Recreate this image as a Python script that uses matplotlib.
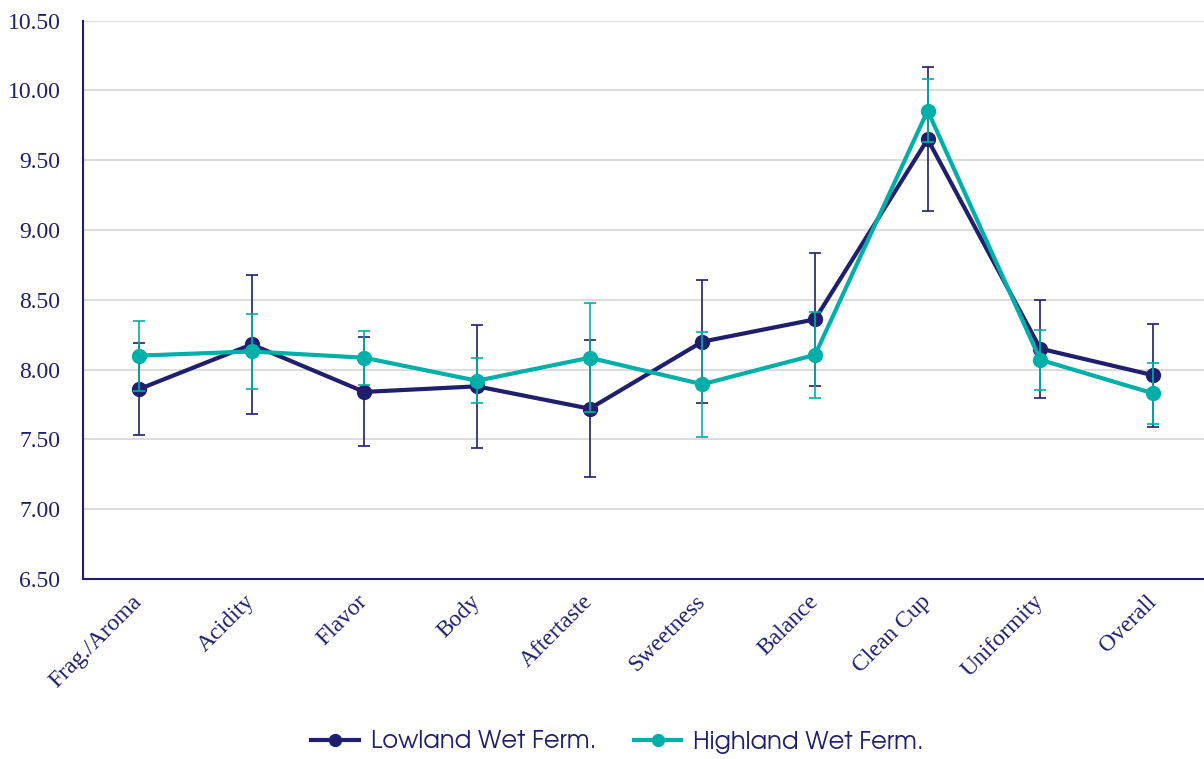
import numpy as np
import matplotlib
matplotlib.use("Agg")
import matplotlib.pyplot as plt
from matplotlib.lines import Line2D

plt.rcParams["font.family"] = ["Liberation Serif", "DejaVu Serif"]

# cupping attributes and mean scores (+/- std dev) per fermentation group
attributes = ["Frag./Aroma", "Acidity", "Flavor", "Body", "Aftertaste",
              "Sweetness", "Balance", "Clean Cup", "Uniformity", "Overall"]

lowland = [7.86, 8.18, 7.84, 7.88, 7.72, 8.20, 8.36, 9.65, 8.15, 7.96]
lowland_err = [0.33, 0.50, 0.39, 0.44, 0.49, 0.44, 0.475, 0.515, 0.35, 0.37]

highland = [8.10, 8.13, 8.085, 7.92, 8.085, 7.895, 8.105, 9.855, 8.07, 7.83]
highland_err = [0.25, 0.27, 0.195, 0.16, 0.39, 0.375, 0.31, 0.225, 0.215, 0.22]

yticks = [6.5, 7.0, 7.5, 8.0, 8.5, 9.0, 9.5, 10.0, 10.5]

NAVY = "#1f1f6e"
TEAL = "#00b0a8"
GRID = "#d9d9d9"

fig = plt.figure(figsize=(12.04, 7.59), dpi=100)
ax = fig.add_axes([0.0687, 0.2372, 0.9357, 0.7356])

x = np.arange(len(attributes))

ax.errorbar(x, lowland, yerr=lowland_err, color=NAVY, lw=3, marker="o", ms=10,
            ecolor=NAVY, elinewidth=1.2, capsize=4.5, capthick=1.2, zorder=3)
ax.errorbar(x, highland, yerr=highland_err, color=TEAL, lw=3, marker="o", ms=10,
            ecolor=TEAL, elinewidth=1.2, capsize=4.5, capthick=1.2, zorder=4)

ax.set_xlim(-0.5, len(attributes) - 0.5)
ax.set_ylim(6.5, 10.5)
ax.set_yticks(yticks)
ax.set_yticklabels([f"{v:.2f}" for v in yticks], fontsize=17, color=NAVY)
ax.set_xticks(x)
ax.set_xticklabels(attributes, rotation=45, ha="right", va="center",
                   rotation_mode="anchor", fontsize=17, color=NAVY)
ax.tick_params(axis="y", length=0, pad=16)
ax.tick_params(axis="x", length=0, pad=14)

ax.grid(axis="y", color=GRID, lw=1.3)
ax.set_axisbelow(True)
for side in ("top", "right"):
    ax.spines[side].set_visible(False)
for side in ("left", "bottom"):
    ax.spines[side].set_color(NAVY)
    ax.spines[side].set_linewidth(1.5)

handles = [Line2D([], [], color=NAVY, lw=3, marker="o", ms=8.5),
           Line2D([], [], color=TEAL, lw=3, marker="o", ms=8.5)]
labels = ["Lowland Wet Ferm.", "Highland Wet Ferm."]
leg = fig.legend(handles, labels, loc="center", bbox_to_anchor=(0.513, 1 - 742 / 759),
                 ncol=2, frameon=False, handlelength=1.95, columnspacing=1.55,
                 handletextpad=0.5,
                 prop={"family": ["TeX Gyre Adventor", "DejaVu Sans"], "size": 17.5})
for t in leg.get_texts():
    t.set_color(NAVY)

fig.savefig("out.png", dpi=100)
